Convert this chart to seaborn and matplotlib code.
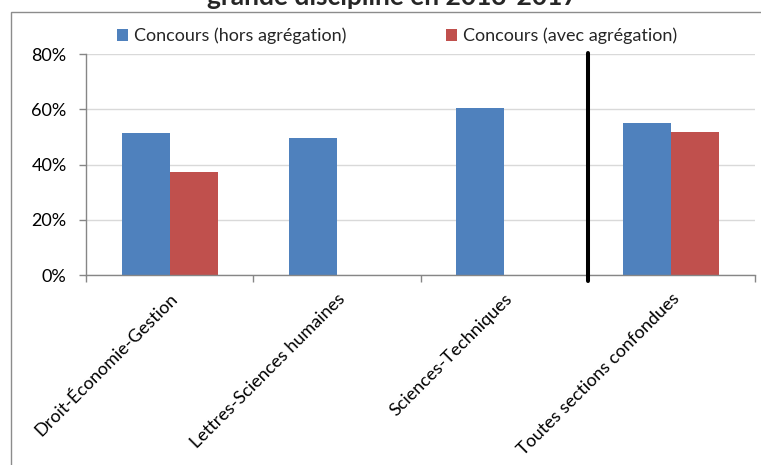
import matplotlib
matplotlib.use("Agg")
import matplotlib.pyplot as plt
import matplotlib.ticker as mticker
from matplotlib.patches import Rectangle
import seaborn as sns
import pandas as pd
import numpy as np

# ---- data ----
categories = ["Droit-Économie-Gestion", "Lettres-Sciences humaines",
              "Sciences-Techniques", "Toutes sections confondues"]
series_names = ["Concours (hors agrégation)", "Concours (avec agrégation)"]
hors_agregation = [0.515, 0.497, 0.606, 0.549]
avec_agregation = [0.372, np.nan, np.nan, 0.519]
y_ticks = [0.0, 0.2, 0.4, 0.6, 0.8]
title_text = "grande discipline en 2013-2017"

rows = []
for c, v in zip(categories, hors_agregation):
    rows.append({"cat": c, "serie": series_names[0], "val": v})
for c, v in zip(categories, avec_agregation):
    rows.append({"cat": c, "serie": series_names[1], "val": v})
df = pd.DataFrame(rows).dropna()

sns.set_theme(style="white")
plt.rcParams["font.family"] = ["Lato", "DejaVu Sans"]

FS = 13
W, H = 761, 465
fig = plt.figure(figsize=(W / 100, H / 100), dpi=100)
ax = fig.add_axes([86 / W, 1 - 275 / H, (755 - 86) / W, (275 - 54) / H])

sns.barplot(data=df, x="cat", y="val", hue="serie", order=categories,
            hue_order=series_names, palette=["#4F81BD", "#C0504D"],
            width=0.573, errorbar=None, saturation=1, linewidth=0,
            edgecolor="none", ax=ax)

ax.set_xlim(-0.5, len(categories) - 0.5)
ax.set_ylim(0, 0.8)
ax.set_yticks(y_ticks)
ax.yaxis.set_major_formatter(mticker.PercentFormatter(1.0, decimals=0))
ax.set_xlabel("")
ax.set_ylabel("")

ax.grid(axis="y", color="#d9d9d9", linewidth=1.0)
ax.set_axisbelow(True)
for s in ["top", "right"]:
    ax.spines[s].set_visible(False)
for s in ["left", "bottom"]:
    ax.spines[s].set_color("#868686")
    ax.spines[s].set_linewidth(1.0)

ax.tick_params(axis="y", left=True, length=5, width=1, color="#868686",
               pad=9, labelsize=FS, labelcolor="black")
ax.tick_params(axis="x", which="major", bottom=False, length=0, pad=11,
               labelsize=FS, labelcolor="black")
ax.set_xticks(np.arange(-0.5, len(categories), 1.0), minor=True)
ax.tick_params(axis="x", which="minor", bottom=True, length=5, width=1,
               color="#868686")
for lab in ax.get_xticklabels():
    lab.set_rotation(45)
    lab.set_ha("right")
    lab.set_va("top")
    lab.set_rotation_mode("anchor")

# separator line
ax.axvline(2.5, ymin=-0.026, ymax=1.006, color="black", linewidth=2.9,
           clip_on=False, zorder=5)

# legend
sns.move_legend(ax, "center", bbox_to_anchor=(397 / W, 1 - 36 / H),
                bbox_transform=fig.transFigure, ncol=2, frameon=False,
                title=None, fontsize=FS, handlelength=0.6,
                handleheight=0.6, handletextpad=0.35, columnspacing=5.5)

# title (clipped at the top as in the reference)
fig.text(392 / W, 1 - 5 / H, title_text, ha="center", va="baseline",
         fontsize=19, fontweight="bold")

# figure border (left and top visible)
fig.patches.append(Rectangle((11 / W, -0.1), 2.0, 1.1 - 12.5 / H,
                             transform=fig.transFigure, fill=False,
                             edgecolor="#8c8c8c", linewidth=1.0))

fig.savefig("out.png", dpi=100)
